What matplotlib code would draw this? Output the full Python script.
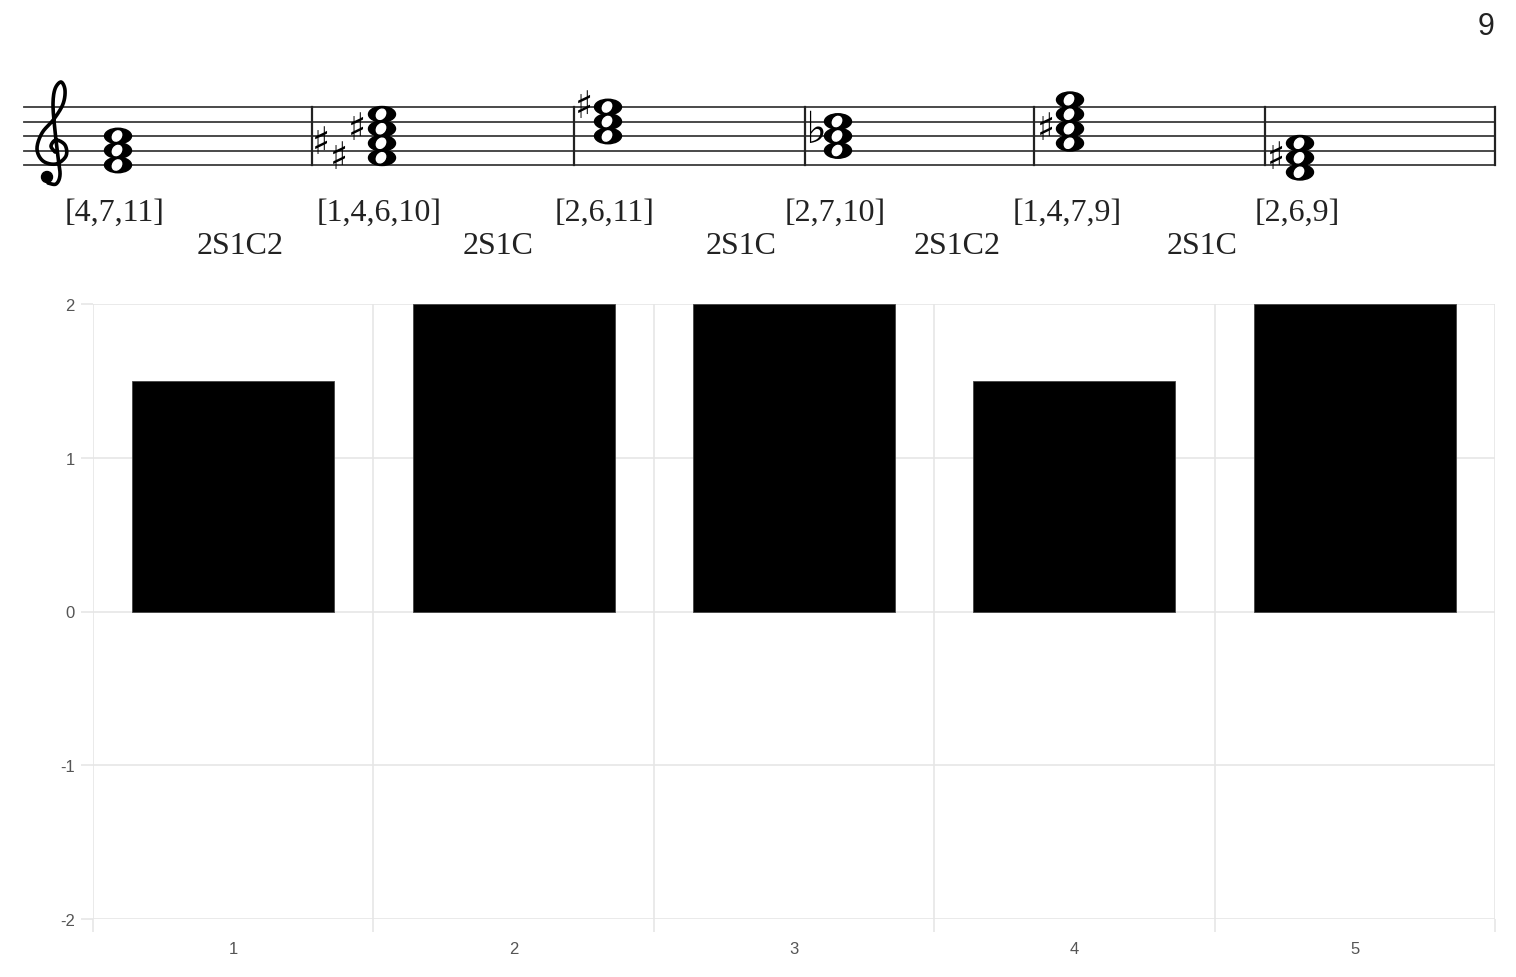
import matplotlib
matplotlib.use("Agg")
import matplotlib.pyplot as plt
from matplotlib.patches import Ellipse, Circle
import numpy as np

# data
pc_sets = ["[4,7,11]", "[1,4,6,10]", "[2,6,11]", "[2,7,10]", "[1,4,7,9]", "[2,6,9]"]
chord_notes = [["E4", "G4", "B4"],
               ["F#4", "A#4", "C#5", "E5"],
               ["B4", "D5", "F#5"],
               ["G4", "Bb4", "D5"],
               ["A4", "C#5", "E5", "G5"],
               ["D4", "F#4", "A4"]]
transitions = ["2S1C2", "2S1C", "2S1C", "2S1C2", "2S1C"]
positions = [1, 2, 3, 4, 5]
values = [1.5, 2, 2, 1.5, 2]
page_number = "9"

W, H = 1516, 978
fig = plt.figure(figsize=(W / 100, H / 100), dpi=100)

# ---- staff overlay, pixel coordinates ----
ov = fig.add_axes([0, 0, 1, 1])
ov.set_xlim(0, W)
ov.set_ylim(H, 0)
ov.axis("off")

staff_bottom = 166
step = 7.25
staff_left, staff_right = 24, 1495
for i in range(5):
    y = staff_bottom - 2 * i * step
    ov.plot([staff_left, staff_right], [y, y], color="#3a3a3a", lw=1.3)

def note_y(name):
    letters = "CDEFGAB"
    idx = letters.index(name[0])
    octave = int(name[-1])
    s = (octave - 4) * 7 + idx - 2
    return staff_bottom - s * step

chord_x = [118, 382, 608, 838, 1070, 1300]
barlines = [312, 574, 805, 1034, 1265, 1495]
for bx in barlines:
    ov.plot([bx, bx], [staff_bottom - 8 * step, staff_bottom], color="#222222", lw=1.6)

# treble clef: no installed font has U+1D11E, so draw it as a curve
def catmull(pts, n=12):
    pts = np.asarray(pts, float)
    pts = np.vstack([pts[0], pts, pts[-1]])
    out = []
    for i in range(1, len(pts) - 2):
        p0, p1, p2, p3 = pts[i - 1], pts[i], pts[i + 1], pts[i + 2]
        for t in np.linspace(0, 1, n, endpoint=False):
            t2, t3 = t * t, t * t * t
            out.append(0.5 * ((2 * p1) + (-p0 + p2) * t + (2 * p0 - 5 * p1 + 4 * p2 - p3) * t2
                              + (-p0 + 3 * p1 - 3 * p2 + p3) * t3))
    out.append(pts[-2])
    return np.array(out)

clef_pts = [(55, 153), (51, 147), (56, 141), (65, 146), (66, 157), (56, 165), (43, 162),
            (37, 150), (42, 134), (54, 120), (63, 105), (65, 91), (61, 83), (55, 90),
            (53, 106), (55, 132), (58, 158), (60, 176), (56, 185), (48, 184)]
c = catmull(clef_pts)
ov.plot(c[:, 0], c[:, 1], color="black", lw=2.6, solid_capstyle="round")
ov.add_patch(Circle((47, 178), 5.5, color="black"))

def draw_head(x, y):
    ov.add_patch(Ellipse((x, y), 27, 15.5, color="black", zorder=3))
    ov.add_patch(Ellipse((x - 1, y), 11, 8.5, angle=-55, color="white", zorder=4))

for ci, (cx, notes) in enumerate(zip(chord_x, chord_notes)):
    acc_notes = [n for n in notes if len(n) == 3]
    for n in notes:
        draw_head(cx, note_y(n))
    if ci == 1:
        xs = {"A#4": cx - 61, "F#4": cx - 43, "C#5": cx - 25}
    else:
        xs = {n: cx - 24 for n in acc_notes}
    for n in acc_notes:
        if n[1] == "#":
            ov.text(xs[n], note_y(n), "\u266F", fontsize=27, ha="center", va="center",
                    family=["DejaVu Sans"], color="black")
        else:
            ov.text(xs[n] + 2, note_y(n) - 7, "\u266D", fontsize=32, ha="center", va="center",
                    family=["DejaVu Sans"], color="black")

for x, lab in zip(chord_x, pc_sets):
    ov.text(x - 3, 213, lab, fontsize=23, ha="center", va="center",
            family=["Liberation Serif"], color="#222222")
trans_x = [240, 498, 741, 957, 1202]
for x, lab in zip(trans_x, transitions):
    ov.text(x, 247, lab, fontsize=23, ha="center", va="center",
            family=["Liberation Serif"], color="#222222")

ov.text(1486, 27, page_number, fontsize=22, ha="center", va="center",
        family=["Liberation Sans"], color="#222222")

# ---- bar chart ----
ax = fig.add_axes([93 / W, (H - 920) / H, (1495 - 93) / W, (920 - 305) / H])
ax.bar(positions, values, width=0.72, color="black", edgecolor="#444444", linewidth=0.6, zorder=3)
ax.set_xlim(0.5, 5.5)
ax.set_ylim(-2, 2)
ax.set_yticks([-2, -1, 0, 1, 2])
ax.set_yticklabels(["-2", "-1", "0", "1", "2"])
ax.set_xticks(positions)
ax.set_xticklabels([str(p) for p in positions])
ax.set_xticks(np.arange(0.5, 6, 1), minor=True)
for s in ax.spines.values():
    s.set_visible(False)
ax.grid(axis="y", which="major", color="#e6e6e6", lw=1.2, zorder=0)
ax.grid(axis="x", which="minor", color="#e6e6e6", lw=1.2, zorder=0)
ax.tick_params(axis="y", length=9, color="#e6e6e6", width=1.2, labelsize=12,
               labelcolor="#555555", pad=4)
ax.tick_params(axis="x", which="major", length=0, labelsize=12, labelcolor="#555555", pad=16)
ax.tick_params(axis="x", which="minor", length=9, color="#e6e6e6", width=1.2)
for lab in ax.get_xticklabels() + ax.get_yticklabels():
    lab.set_family("Liberation Sans")

fig.savefig("out.png", dpi=100)
